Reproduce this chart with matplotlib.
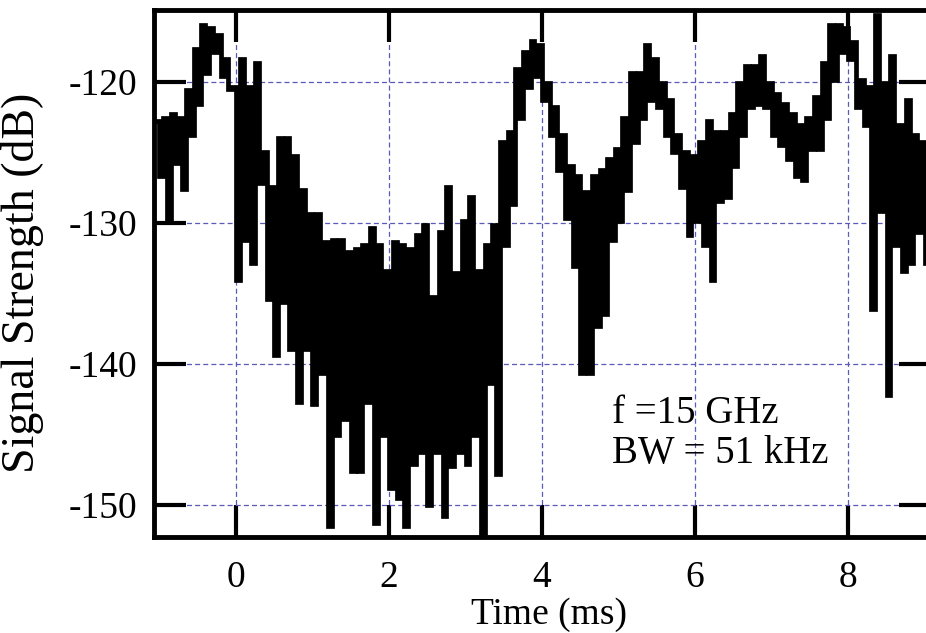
import matplotlib
matplotlib.use("Agg")
import matplotlib.pyplot as plt
import numpy as np

plt.rcParams['font.family'] = ['Liberation Serif', 'DejaVu Serif']
plt.rcParams['axes.unicode_minus'] = False

# time samples (ms) and upper / lower edge of the noisy trace (dB)
time_ms = [-1.0, -0.9, -0.8, -0.7, -0.6, -0.5, -0.4, -0.3, -0.2, -0.1,
           0.0, 0.1, 0.2, 0.3, 0.4, 0.5, 0.6, 0.7, 0.8, 0.9,
           1.0, 1.1, 1.2, 1.3, 1.4, 1.5, 1.6, 1.7, 1.8, 1.9,
           2.0, 2.1, 2.2, 2.3, 2.4, 2.5, 2.6, 2.7, 2.8, 2.9,
           3.0, 3.1, 3.2, 3.3, 3.4, 3.5, 3.6, 3.7, 3.8, 3.9,
           4.0, 4.1, 4.2, 4.3, 4.4, 4.5, 4.6, 4.7, 4.8, 4.9,
           5.0, 5.1, 5.2, 5.3, 5.4, 5.5, 5.6, 5.7, 5.8, 5.9,
           6.0, 6.1, 6.2, 6.3, 6.4, 6.5, 6.6, 6.7, 6.8, 6.9,
           7.0, 7.1, 7.2, 7.3, 7.4, 7.5, 7.6, 7.7, 7.8, 7.9,
           8.0, 8.1, 8.2, 8.3, 8.4, 8.5, 8.6, 8.7, 8.8, 8.9, 9.0]

upper_db = [-122.8, -122.6, -122.3, -122.6, -120.6, -117.7, -116.0, -116.2, -116.7, -118.4,
            -120.4, -118.4, -120.4, -118.7, -125.0, -127.5, -124.0, -124.0, -125.3, -127.7,
            -129.4, -129.4, -131.4, -131.2, -131.2, -132.1, -131.9, -131.6, -130.4, -131.6,
            -133.4, -131.4, -131.6, -131.9, -130.9, -130.2, -135.3, -130.7, -127.5, -133.6,
            -129.9, -128.2, -133.4, -131.6, -130.2, -124.3, -123.6, -119.1, -117.9, -117.1,
            -117.4, -120.1, -121.8, -123.8, -126.0, -126.7, -127.8, -126.7, -126.3, -125.5,
            -124.8, -122.6, -119.4, -119.4, -117.4, -118.4, -120.1, -121.3, -123.8, -125.0,
            -125.3, -124.3, -122.8, -123.6, -123.6, -122.3, -120.1, -118.9, -118.9, -118.2,
            -120.1, -120.9, -121.6, -122.3, -123.1, -122.6, -121.1, -118.7, -116.0, -116.0,
            -116.2, -117.2, -119.9, -120.4, -115.3, -120.1, -118.2, -123.1, -121.3, -123.8, -124.3]

lower_db = [-126.7, -129.8, -125.8, -127.6, -123.8, -121.6, -119.4, -117.9, -119.6, -120.5,
            -134.1, -131.2, -132.9, -127.2, -135.4, -139.4, -135.6, -139.0, -142.7, -139.0,
            -142.9, -140.7, -151.5, -145.1, -143.9, -147.6, -147.6, -142.7, -151.3, -145.1,
            -148.8, -149.5, -151.5, -147.1, -146.3, -150.0, -146.3, -150.8, -147.3, -146.3,
            -147.1, -145.1, -152.0, -141.4, -147.8, -131.6, -128.7, -122.6, -120.4, -119.6,
            -121.3, -123.8, -126.3, -129.7, -133.1, -140.7, -140.7, -137.3, -136.5, -131.2,
            -129.9, -127.7, -124.3, -122.6, -121.3, -121.8, -123.8, -125.0, -127.5, -130.9,
            -129.9, -131.6, -134.1, -128.5, -128.2, -126.0, -123.8, -121.8, -121.6, -121.8,
            -123.8, -124.5, -125.5, -126.7, -127.0, -124.8, -124.8, -122.6, -119.9, -117.9,
            -118.4, -121.8, -123.1, -136.1, -129.2, -142.2, -131.6, -133.4, -132.9, -130.7, -132.9]

x_ticks = [0, 2, 4, 6, 8]
y_ticks = [-150, -140, -130, -120]

# interleave the two edges so the trace zig-zags between them
t = np.asarray(time_ms)
xs = np.column_stack([t - 0.025, t + 0.025]).ravel()
ys = np.column_stack([upper_db, lower_db]).ravel()

fig = plt.figure(figsize=(9.26, 6.33), dpi=100)
ax = fig.add_axes([0.1663, 0.1517, 0.8391, 0.8318])

ax.plot(xs, ys, color='black', lw=3.4, drawstyle='steps-mid', zorder=3,
        solid_joinstyle='miter')

ax.set_xlim(-1.07, 9.08)
ax.set_ylim(-152.3, -114.95)
ax.set_xticks(x_ticks)
ax.set_yticks(y_ticks)

ax.grid(True, color='#5a5ab8', lw=0.9, linestyle=(0, (4, 2.5)), zorder=1)

for s in ax.spines.values():
    s.set_linewidth(3.5)
ax.tick_params(which='both', direction='in', top=True, right=True,
               length=23, width=3, labelsize=27)
ax.tick_params(axis='x', pad=17)
ax.tick_params(axis='y', pad=12)

ax.set_xlabel('Time (ms)', fontsize=27)
ax.xaxis.set_label_coords(0.508, -0.115)
ax.set_ylabel('Signal Strength (dB)', fontsize=33)
ax.yaxis.set_label_coords(-0.141, 0.4824)

ax.text(4.91, -144.2, 'f =15 GHz', fontsize=28, ha='left', va='baseline', zorder=4)
ax.text(4.91, -147.06, 'BW = 51 kHz', fontsize=28, ha='left', va='baseline', zorder=4)

fig.savefig('out.png', dpi=100)
